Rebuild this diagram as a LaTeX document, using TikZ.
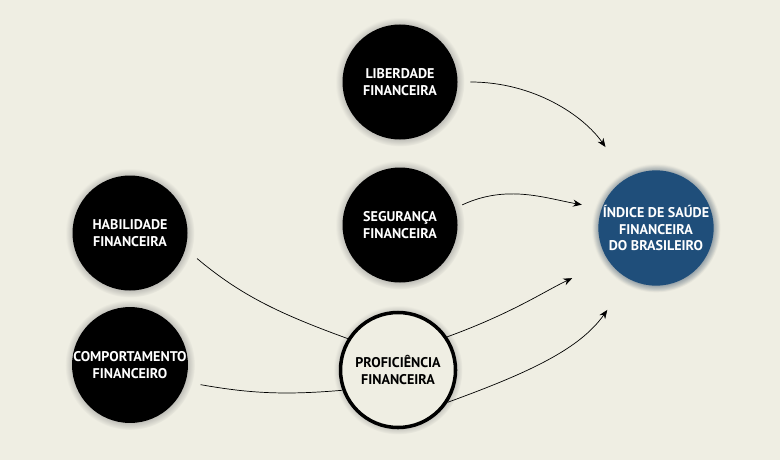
\documentclass[tikz,border=0pt]{standalone}
\usepackage{fontspec}
\setmainfont{PT Sans}
\usetikzlibrary{shadows,arrows.meta}
\definecolor{paper}{HTML}{EFEEE3}
\definecolor{indexblue}{HTML}{1F4E7A}
\tikzset{
  factor/.style={circle, minimum size=2.3cm, fill=black, text=white, font=\bfseries\footnotesize,
    align=center, inner sep=0pt,
    circular drop shadow={shadow xshift=0pt, shadow yshift=0pt, shadow scale=1.12, opacity=0.55}},
  mediator/.style={factor, fill=paper, draw=black, line width=2pt, text=black},
  target/.style={factor, fill=indexblue,
    circular drop shadow={shadow xshift=0pt, shadow yshift=0pt, shadow scale=1.1, opacity=0.35, fill=indexblue}},
  link/.style={thin, black},
  effect/.style={link, -{Stealth[length=5pt,width=4pt]}}
}
\begin{document}
\begin{tikzpicture}
  \fill[paper] (0,0) rectangle (15.6,9.2);
  \useasboundingbox (0,0) rectangle (15.6,9.2);
  % fatores
  \node[factor] (lib) at (8.0,7.56) {LIBERDADE\\FINANCEIRA};
  \node[factor] (seg) at (8.0,4.7) {SEGURANÇA\\FINANCEIRA};
  \node[factor] (hab) at (2.6,4.54) {HABILIDADE\\FINANCEIRA};
  \node[factor] (comp) at (2.6,1.9) {COMPORTAMENTO\\FINANCEIRO};
  \node[mediator] (prof) at (7.96,1.8) {PROFICIÊNCIA\\FINANCEIRA};
  \node[target] (idx) at (13.12,4.64) {ÍNDICE DE SAÚDE\\FINANCEIRA\\DO BRASILEIRO};
  % ligacoes
  \draw[effect, shorten <=0.25cm, shorten >=0.75cm] (lib.east) to[out=0,in=125] (idx.120);
  \draw[effect, shorten <=0.15cm, shorten >=0.4cm] (seg.17) to[out=25,in=170] (idx.160);
  \draw[link, shorten <=0.3cm] (hab.-16) to[out=-40,in=160] (prof.148);
  \draw[link, shorten <=0.3cm] (comp.-17) to[out=-10,in=185] (prof.200);
  \draw[effect, shorten >=0.8cm] (prof.34) to[out=20,in=205] (idx.215);
  \draw[effect, shorten >=0.75cm] (prof.-33) to[out=20,in=235] (idx.242);
\end{tikzpicture}
\end{document}
